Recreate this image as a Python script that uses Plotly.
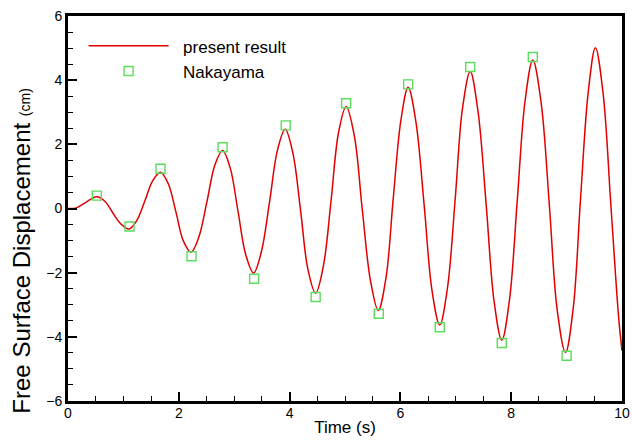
import plotly.graph_objects as go

# present result (extrema and points between them)
t_sim = [0.0, 0.15, 0.33, 0.52, 0.67, 0.81, 0.96, 1.10, 1.24, 1.39, 1.53, 1.67,
         1.81, 1.95, 2.08, 2.22, 2.36, 2.51, 2.65, 2.79, 2.93, 3.07, 3.21, 3.35,
         3.49, 3.64, 3.78, 3.92, 4.06, 4.20, 4.33, 4.47, 4.61, 4.75, 4.88, 5.02,
         5.17, 5.31, 5.46, 5.60, 5.74, 5.87, 6.01, 6.14, 6.28, 6.43, 6.57, 6.71,
         6.85, 6.99, 7.12, 7.26, 7.40, 7.55, 7.69, 7.83, 7.97, 8.11, 8.25, 8.39,
         8.54, 8.69, 8.83, 8.98, 9.12, 9.25, 9.39, 9.52, 9.66, 9.80, 9.94, 10.0]
eta_sim = [0.0, 0.02, 0.20, 0.37, 0.22, -0.14, -0.49, -0.64, -0.38, 0.25, 0.87, 1.13,
           0.77, -0.12, -1.00, -1.36, -0.90, 0.23, 1.35, 1.81, 1.25, -0.10, -1.45, -2.01,
           -1.35, 0.23, 1.81, 2.47, 1.72, -0.09, -1.89, -2.64, -1.79, 0.27, 2.33, 3.18,
           2.25, 0.0, -2.25, -3.18, -2.16, 0.30, 2.76, 3.78, 2.70, 0.08, -2.55, -3.63,
           -2.47, 0.32, 3.11, 4.27, 3.04, 0.08, -2.88, -4.11, -2.83, 0.26, 3.35, 4.63,
           3.30, 0.07, -3.16, -4.49, -3.10, 0.26, 3.62, 5.01, 3.57, 0.08, -3.41, -4.43]

# Nakayama data
t_nak = [0.52, 1.11, 1.67, 2.23, 2.79, 3.36, 3.93, 4.47, 5.02, 5.61, 6.14, 6.71,
         7.26, 7.83, 8.39, 9.00]
eta_nak = [0.40, -0.56, 1.24, -1.49, 1.91, -2.19, 2.59, -2.76, 3.28, -3.28, 3.87,
           -3.70, 4.41, -4.19, 4.72, -4.59]

FONT = "Liberation Sans, Arial, sans-serif"

fig = go.Figure()
fig.add_trace(go.Scatter(
    x=t_sim, y=eta_sim, mode="lines", name="\u00a0\u00a0present result",
    line=dict(color="#e00000", width=1.5, shape="spline", smoothing=1.0),
))
fig.add_trace(go.Scatter(
    x=t_nak, y=eta_nak, mode="markers", name="\u00a0\u00a0Nakayama",
    marker=dict(symbol="square-open", size=9, color="#5cdc5c", line=dict(width=1.4)),
))

axis_common = dict(
    showline=True, linecolor="black", linewidth=3, mirror=True,
    ticks="inside", ticklen=9, tickwidth=2, tickcolor="black",
    showgrid=False, zeroline=False, automargin=False,
    ticklabeloverflow="allow",
    tickfont=dict(family=FONT, size=14, color="black"),
)

fig.update_xaxes(
    range=[0, 10], tick0=0, dtick=2, ticklabelstandoff=-3,
    minor=dict(dtick=0.5, ticks="inside", ticklen=5, tickwidth=1.2, tickcolor="black", showgrid=False),
    title=dict(text="Time (s)", font=dict(family=FONT, size=17, color="black"), standoff=2),
    **axis_common,
)
fig.update_yaxes(
    range=[-6, 6], tick0=-6, dtick=2,
    minor=dict(dtick=0.5, ticks="inside", ticklen=5, tickwidth=1.2, tickcolor="black", showgrid=False),
    **axis_common,
)

fig.add_annotation(
    text="Free Surface Displacement <span style='font-size:14px'>(cm)</span>",
    xref="paper", yref="paper", x=-0.083, y=0.388,
    xanchor="center", yanchor="middle", textangle=-90, showarrow=False,
    font=dict(family=FONT, size=24, color="black"),
)

fig.update_layout(
    width=632, height=444,
    margin=dict(l=68, r=10, t=16, b=43),
    paper_bgcolor="white", plot_bgcolor="white",
    showlegend=True,
    legend=dict(
        x=0.0282, y=0.968, xanchor="left", yanchor="top",
        bgcolor="rgba(0,0,0,0)", itemwidth=80,
        font=dict(family=FONT, size=17, color="black"),
    ),
)

# remove the default 8px page margin so the figure fills the window exactly
fig.write_html("out.html", config={"displayModeBar": False},
               post_script="document.body.style.margin='0';")
